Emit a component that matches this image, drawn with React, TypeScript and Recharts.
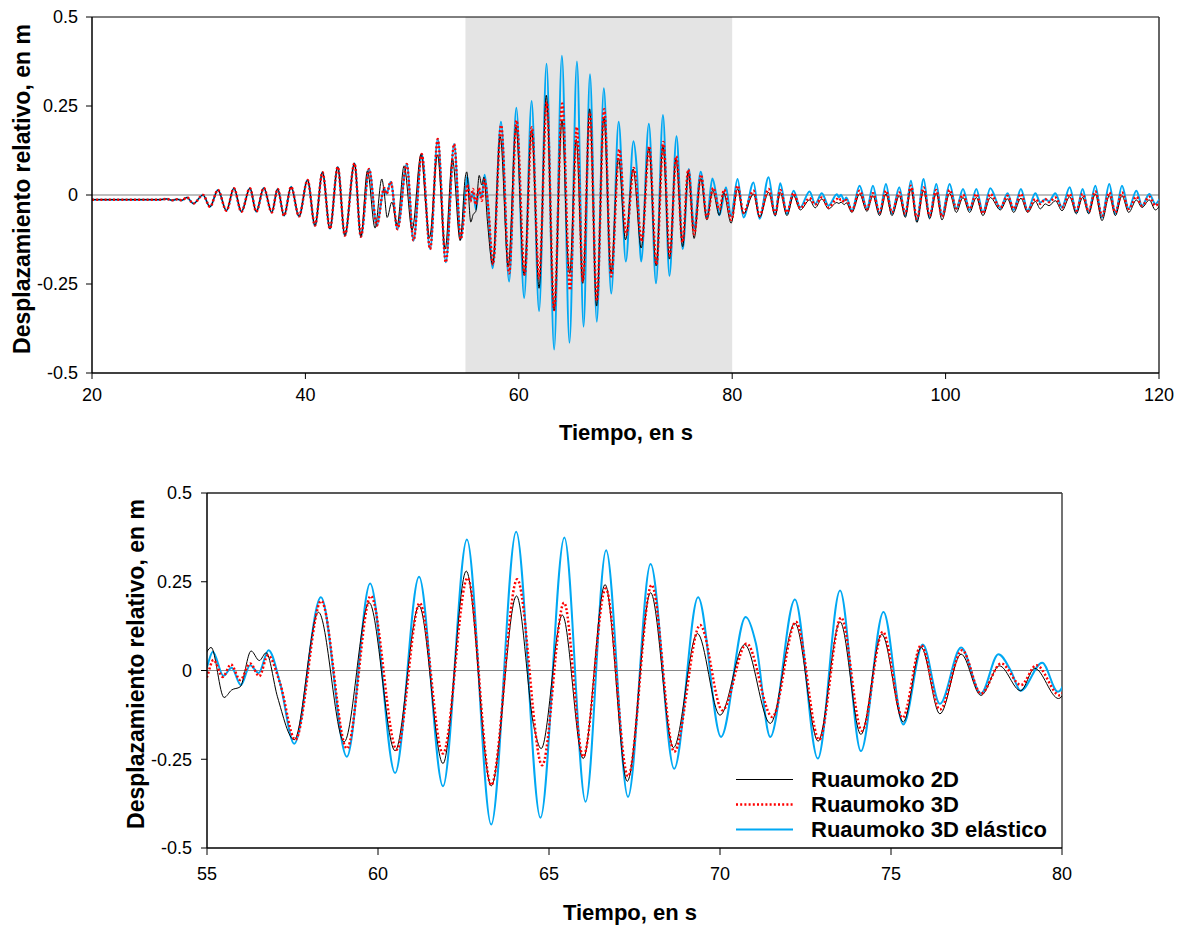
import React from 'react';
import { LineChart, Line, XAxis, YAxis, ReferenceArea, ReferenceLine } from 'recharts';

// ---------- colours / fonts ----------
const C_2D = '#000000';
const C_3D = '#FF0000';
const C_EL = '#00A8F3';
const FONT = "'Liberation Sans', Arial, Helvetica, sans-serif";

// ---------- tick labels ----------
const topTicksX = [20, 40, 60, 80, 100, 120];
const bottomTicksX = [55, 60, 65, 70, 75, 80];
const ticksY = [-0.5, -0.25, 0, 0.25, 0.5];

// ---------- data: [tiempo (s), desplazamiento (m)] ----------
// common start (all three models practically coincide)
const preShared: [number, number][] = [
  [20.0, -0.013], [26.4, -0.013], [27.0, -0.011], [27.5, -0.015], [28.0, -0.012], [28.4, -0.015],
  [28.9, -0.007], [29.5, -0.024], [30.4, 0.0], [31.06, -0.033], [31.8, 0.014], [32.6, -0.044],
  [33.3, 0.019], [34.0, -0.047], [34.8, 0.019], [35.4, -0.047], [36.1, 0.02], [36.85, -0.049],
  [37.4, 0.017], [38.0, -0.058], [38.66, 0.023], [39.4, -0.06], [40.2, 0.042], [40.9, -0.086],
  [41.6, 0.064], [42.3, -0.095], [43.03, 0.079], [43.7, -0.114], [44.6, 0.089], [45.2, -0.117],
];

const pre2D: [number, number][] = [
  [45.81, 0.068], [46.53, -0.093], [47.16, 0.045], [47.4, 0.003], [47.66, -0.063], [48.1, -0.02],
  [48.6, -0.085], [49.25, 0.082], [50.0, -0.098], [50.84, 0.115], [51.3, -0.035], [51.63, -0.12],
  [52.38, 0.113], [53.1, -0.152], [53.78, 0.101], [54.5, -0.128],
];

const pre3D: [number, number][] = [
  [45.97, 0.073], [46.69, -0.086], [47.38, 0.02], [47.6, 0.003], [48.0, 0.037], [48.63, -0.096],
  [49.5, 0.087], [50.13, -0.128], [50.9, 0.115], [51.69, -0.152], [52.4, 0.157], [53.16, -0.189],
  [53.94, 0.143], [54.56, -0.124],
];

const mid2D: [number, number][] = [
  [55.0, 0.053], [55.12, 0.065], [55.5, -0.076], [55.72, -0.055], [55.97, -0.046], [56.29, 0.055],
  [56.53, 0.028], [56.73, 0.05], [57.06, -0.074], [57.55, -0.195], [58.26, 0.164], [59.01, -0.201],
  [59.74, 0.191], [60.5, -0.226], [61.2, 0.182], [61.9, -0.262], [62.58, 0.28], [63.31, -0.325],
  [64.05, 0.21], [64.56, -0.159], [64.77, -0.22], [65.39, 0.156], [66.0, -0.248], [66.64, 0.242],
  [67.29, -0.312], [67.97, 0.219], [68.64, -0.217], [69.34, 0.104], [70.0, -0.126], [70.72, 0.073],
  [71.47, -0.149], [72.19, 0.133], [72.87, -0.199], [73.51, 0.137], [74.12, -0.18], [74.73, 0.102],
  [75.36, -0.145], [75.88, 0.065], [76.43, -0.122], [77.05, 0.046], [77.63, -0.07], [78.17, 0.013],
  [78.79, -0.057], [79.2, 0.006], [79.9, -0.079],
];

const mid3D: [number, number][] = [
  [55.0, -0.018], [55.19, 0.03], [55.46, -0.018], [55.7, 0.017], [55.97, -0.027], [56.26, 0.02],
  [56.53, -0.016], [56.78, 0.043], [57.14, -0.037], [57.58, -0.195], [58.34, 0.196], [59.09, -0.22],
  [59.79, 0.21], [60.55, -0.223], [61.22, 0.19], [61.9, -0.234], [62.62, 0.261], [63.31, -0.323],
  [64.07, 0.257], [64.8, -0.267], [65.44, 0.191], [66.0, -0.243], [66.66, 0.231], [67.31, -0.298],
  [68.0, 0.241], [68.66, -0.229], [69.42, 0.128], [70.07, -0.112], [70.78, 0.076], [71.53, -0.131],
  [72.22, 0.137], [72.9, -0.195], [73.54, 0.149], [74.15, -0.17], [74.76, 0.109], [75.34, -0.133],
  [75.88, 0.071], [76.43, -0.11], [77.08, 0.057], [77.63, -0.065], [78.22, 0.02], [78.8, -0.041],
  [79.25, 0.015], [79.93, -0.07],
];

const midEl: [number, number][] = [
  [55.0, 0.01], [55.17, 0.053], [55.48, -0.015], [55.72, 0.008], [55.99, -0.041], [56.26, 0.015],
  [56.51, -0.007], [56.8, 0.057], [57.14, -0.037], [57.55, -0.206], [58.33, 0.206], [59.09, -0.243],
  [59.77, 0.245], [60.5, -0.289], [61.2, 0.264], [61.9, -0.326], [62.6, 0.369], [63.31, -0.434],
  [64.04, 0.391], [64.75, -0.415], [65.45, 0.375], [66.07, -0.37], [66.67, 0.339], [67.31, -0.356],
  [67.97, 0.3], [68.66, -0.277], [69.36, 0.206], [70.03, -0.187], [70.75, 0.151], [71.05, 0.076],
  [71.47, -0.187], [72.19, 0.2], [72.86, -0.248], [73.51, 0.225], [74.12, -0.227], [74.78, 0.165],
  [75.36, -0.152], [75.93, 0.073], [76.43, -0.094], [77.05, 0.065], [77.63, -0.065], [78.14, 0.046],
  [78.5, 0.0], [78.79, -0.057], [79.42, 0.022], [79.88, -0.06],
];

const post2D: [number, number][] = [
  [80.5, 0.017], [81.06, -0.053], [82.0, 0.003], [82.56, -0.063], [83.41, 0.007], [84.03, -0.058],
  [84.5, 0.007], [85.13, -0.058], [85.75, -0.002], [86.38, -0.042], [87.25, -0.014], [87.78, -0.036],
  [88.4, -0.011], [89.03, -0.039], [89.81, -0.021], [90.0, -0.024], [90.2, -0.02], [90.5, -0.027],
  [90.69, -0.022], [91.22, -0.049], [91.94, 0.003], [92.63, -0.046], [93.19, -0.002], [93.81, -0.058],
  [94.41, 0.003], [94.97, -0.058], [95.66, -0.002], [96.22, -0.063], [96.75, 0.017], [97.31, -0.077],
  [97.94, 0.012], [98.5, -0.067], [99.13, 0.005], [99.66, -0.07], [100.38, 0.005], [101.0, -0.049],
  [101.63, -0.007], [102.25, -0.049], [102.88, -0.007], [103.5, -0.058], [104.19, -0.007], [105.13, -0.042],
  [105.81, -0.011], [106.38, -0.049], [107.06, -0.009], [107.69, -0.049], [108.41, -0.018], [108.88, -0.039],
  [109.34, -0.025], [109.7, -0.03], [110.28, -0.016], [110.91, -0.044], [111.63, -0.005], [112.25, -0.053],
  [112.84, -0.007], [113.41, -0.053], [114.03, 0.003], [114.66, -0.072], [115.34, -0.002], [115.91, -0.058],
  [116.53, -0.002], [117.16, -0.049], [117.88, -0.014], [118.41, -0.035], [119.09, -0.014], [119.66, -0.042],
  [120.06, -0.03],
];

const post3D: [number, number][] = [
  [80.5, 0.026], [81.06, -0.049], [82.0, 0.012], [82.56, -0.058], [83.41, 0.017], [84.03, -0.053],
  [84.5, 0.014], [85.13, -0.049], [85.75, 0.005], [86.38, -0.037], [87.25, -0.009], [87.78, -0.027],
  [88.4, -0.007], [89.03, -0.035], [89.81, -0.011], [90.0, -0.016], [90.2, -0.011], [90.5, -0.02],
  [90.69, -0.014], [91.22, -0.044], [91.94, 0.012], [92.63, -0.039], [93.19, 0.005], [93.81, -0.049],
  [94.41, 0.012], [94.97, -0.049], [95.66, 0.007], [96.22, -0.053], [96.75, 0.026], [97.31, -0.067],
  [97.94, 0.021], [98.5, -0.058], [99.13, 0.014], [99.66, -0.061], [100.38, 0.014], [101.0, -0.037],
  [101.63, 0.001], [102.25, -0.039], [102.88, 0.003], [103.5, -0.052], [104.19, 0.003], [105.13, -0.035],
  [105.81, -0.002], [106.38, -0.039], [107.06, 0.003], [107.69, -0.044], [108.41, -0.011], [108.88, -0.025],
  [109.34, -0.011], [109.7, -0.02], [110.28, -0.007], [110.91, -0.035], [111.63, 0.003], [112.25, -0.044],
  [112.84, 0.003], [113.41, -0.046], [114.03, 0.01], [114.66, -0.058], [115.34, 0.007], [115.91, -0.049],
  [116.53, 0.007], [117.16, -0.039], [117.88, -0.005], [118.41, -0.03], [119.09, -0.005], [119.66, -0.03],
  [120.06, -0.018],
];

const postEl: [number, number][] = [
  [80.5, 0.045], [81.06, -0.063], [82.0, 0.035], [82.56, -0.067], [83.41, 0.05], [84.03, -0.058],
  [84.5, 0.033], [85.13, -0.053], [85.75, 0.012], [86.38, -0.035], [87.25, 0.01], [87.78, -0.025],
  [88.4, 0.005], [89.03, -0.03], [89.81, 0.002], [90.0, -0.006], [90.2, 0.001], [90.5, -0.016],
  [90.69, -0.007], [91.22, -0.044], [91.94, 0.026], [92.63, -0.039], [93.19, 0.026], [93.81, -0.053],
  [94.41, 0.031], [94.97, -0.053], [95.66, 0.022], [96.22, -0.058], [96.75, 0.04], [97.31, -0.072],
  [97.94, 0.045], [98.5, -0.063], [99.13, 0.031], [99.66, -0.058], [100.38, 0.031], [101.0, -0.039],
  [101.63, 0.017], [102.25, -0.042], [102.88, 0.017], [103.5, -0.049], [104.19, 0.019], [105.13, -0.037],
  [105.81, 0.005], [106.38, -0.042], [107.06, 0.017], [107.69, -0.044], [108.41, 0.005], [108.88, -0.021],
  [109.34, -0.012], [109.7, -0.018], [110.28, 0.005], [110.91, -0.035], [111.63, 0.022], [112.25, -0.049],
  [112.84, 0.017], [113.41, -0.049], [114.03, 0.026], [114.66, -0.063], [115.34, 0.031], [115.91, -0.053],
  [116.53, 0.026], [117.16, -0.039], [117.88, 0.012], [118.41, -0.03], [119.09, 0.003], [119.66, -0.025],
  [120.06, -0.011],
];

const toRows = (...parts: [number, number][][]) =>
  parts.flat().map(([t, v]) => ({ t, v }));

const rows2D = toRows(preShared, pre2D, mid2D, post2D);
const rows3D = toRows(preShared, pre3D, mid3D, post3D);
const rowsEl = toRows(preShared, pre3D, midEl, postEl);

const series = [
  { name: 'Ruaumoko 3D elástico', rows: rowsEl, color: C_EL, width: 2, dash: undefined as string | undefined },
  { name: 'Ruaumoko 2D', rows: rows2D, color: C_2D, width: 1, dash: undefined as string | undefined },
  { name: 'Ruaumoko 3D', rows: rows3D, color: C_3D, width: 2.5, dash: '2 2.2' },
];
const legendOrder = ['Ruaumoko 2D', 'Ruaumoko 3D', 'Ruaumoko 3D elástico'];

const tickStyle = { fill: '#000', fontSize: 18, fontFamily: FONT };

function renderLines() {
  return series.map((s) => (
    <Line
      key={s.name}
      data={s.rows}
      dataKey="v"
      name={s.name}
      type="monotone"
      stroke={s.color}
      strokeWidth={s.width}
      strokeDasharray={s.dash}
      dot={false}
      activeDot={false}
      isAnimationActive={false}
    />
  ));
}

const titleStyle: React.CSSProperties = {
  position: 'absolute',
  fontFamily: FONT,
  fontWeight: 'bold',
  color: '#000',
  whiteSpace: 'nowrap',
  transform: 'translate(-50%, -50%)',
};

const yTitleStyle: React.CSSProperties = {
  ...titleStyle,
  transform: 'translate(-50%, -50%) rotate(-90deg)',
};

export default function App() {
  return (
    <div style={{ position: 'absolute', left: 0, top: 0, width: 1182, height: 928, background: '#fff', overflow: 'hidden' }}>
      {/* ---------- top chart ---------- */}
      <div style={{ position: 'absolute', left: 0, top: 0 }}>
        <LineChart width={1182} height={460} margin={{ top: 17, right: 23, bottom: 47, left: 0 }}>
          <XAxis
            type="number"
            dataKey="t"
            domain={[20, 120]}
            ticks={topTicksX}
            interval={0}
            allowDataOverflow
            height={40}
            tickSize={6}
            tickMargin={9}
            axisLine={{ stroke: '#000', strokeWidth: 1.5 }}
            tickLine={{ stroke: '#000' }}
            tick={tickStyle}
          />
          <YAxis
            type="number"
            domain={[-0.5, 0.5]}
            ticks={ticksY}
            interval={0}
            allowDataOverflow
            width={92}
            tickSize={6}
            tickMargin={8}
            axisLine={{ stroke: '#000', strokeWidth: 1.5 }}
            tickLine={{ stroke: '#000' }}
            tick={tickStyle}
          />
          <ReferenceArea x1={55} x2={80} y1={-0.5} y2={0.5} fill="#e4e4e4" fillOpacity={1} stroke="none" zIndex={-60} />
          <ReferenceLine y={0} stroke="#a8a8a8" strokeWidth={1.5} zIndex={-40} />
          <ReferenceLine y={0.5} stroke="#000" strokeWidth={1} />
          <ReferenceLine x={120} stroke="#333" strokeWidth={1.5} />
          {renderLines()}
        </LineChart>
      </div>
      <div style={{ ...yTitleStyle, left: 22, top: 189, fontSize: 23 }}>Desplazamiento relativo, en m</div>
      <div style={{ ...titleStyle, left: 626, top: 433, fontSize: 22 }}>Tiempo, en s</div>

      {/* ---------- bottom chart (zoom 55-80 s) ---------- */}
      <div style={{ position: 'absolute', left: 0, top: 470 }}>
        <LineChart width={1182} height={458} margin={{ top: 23, right: 120, bottom: 40, left: 0 }}>
          <XAxis
            type="number"
            dataKey="t"
            domain={[55, 80]}
            ticks={bottomTicksX}
            interval={0}
            allowDataOverflow
            height={40}
            tickSize={7}
            tickMargin={12}
            axisLine={{ stroke: '#000', strokeWidth: 1.5 }}
            tickLine={{ stroke: '#000' }}
            tick={tickStyle}
          />
          <YAxis
            type="number"
            domain={[-0.5, 0.5]}
            ticks={ticksY}
            interval={0}
            allowDataOverflow
            width={207}
            tickSize={6}
            tickMargin={9}
            axisLine={{ stroke: '#000', strokeWidth: 1.5 }}
            tickLine={{ stroke: '#000' }}
            tick={tickStyle}
          />
          <ReferenceLine y={0} stroke="#888" strokeWidth={1} zIndex={-40} />
          <ReferenceLine y={0.5} stroke="#222" strokeWidth={1.5} />
          <ReferenceLine x={80} stroke="#444" strokeWidth={1.5} />
          {renderLines()}
        </LineChart>
      </div>
      <div style={{ ...yTitleStyle, left: 136, top: 664, fontSize: 23 }}>Desplazamiento relativo, en m</div>
      <div style={{ ...titleStyle, left: 630, top: 913, fontSize: 22 }}>Tiempo, en s</div>

      {/* ---------- legend ---------- */}
      <div style={{ position: 'absolute', left: 736, top: 767 }}>
        {legendOrder.map((name) => {
          const s = series.find((x) => x.name === name)!;
          return (
            <div key={name} style={{ display: 'flex', alignItems: 'center', height: 25 }}>
              <svg width={58} height={25} style={{ display: 'block' }}>
                <line x1={0} y1={12.5} x2={57} y2={12.5} stroke={s.color} strokeWidth={s.width} strokeDasharray={s.dash} />
              </svg>
              <span style={{ marginLeft: 17, fontFamily: FONT, fontWeight: 'bold', fontSize: 22, lineHeight: '25px', color: '#000' }}>
                {name}
              </span>
            </div>
          );
        })}
      </div>
    </div>
  );
}
